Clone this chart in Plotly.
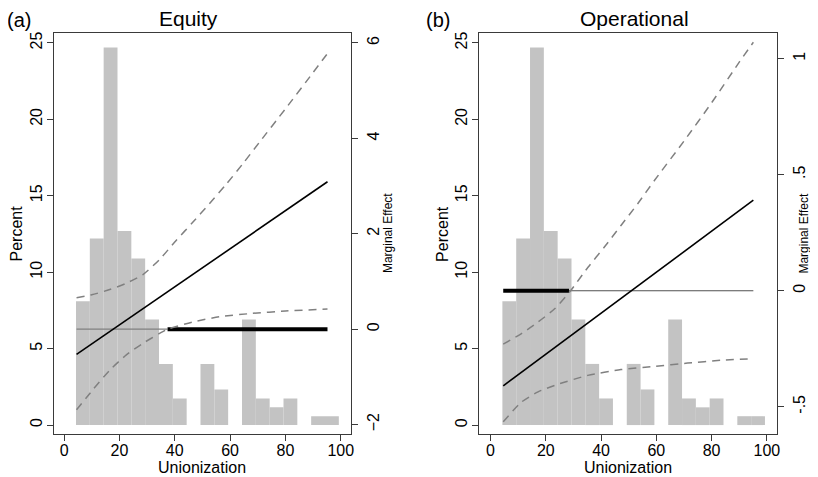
import plotly.graph_objects as go

# The page body has an 8px margin, so the figure is offset by 8px.
OFF = 8
W, H = 810, 469

# ---- data ----
bin_starts = [4.3, 9.3, 14.3, 19.3, 24.3, 29.3, 34.3, 39.3, 44.3, 49.3,
              54.3, 59.3, 64.3, 69.3, 74.3, 79.3, 84.3, 89.3, 94.3]
percent = [8.1, 12.2, 24.7, 12.7, 10.9, 6.9, 4.0, 1.74, 0, 4.0,
           2.33, 0, 6.9, 1.74, 1.16, 1.74, 0, 0.58, 0.58]
bin_width = 5

# Equity marginal effect
eq_me_x = [4.5, 95.2]
eq_me_y = [-0.53, 3.09]
eq_up_x = [4.5, 10, 16.5, 22, 28.4, 34.5, 40.5, 46.5, 52.5, 58.5, 64.5, 70.5, 80, 90, 95.2]
eq_up_y = [0.66, 0.72, 0.83, 0.95, 1.14, 1.46, 1.86, 2.24, 2.63, 3.03, 3.46, 3.91, 4.62, 5.38, 5.78]
eq_lo_x = [4.5, 10.4, 16.5, 22.5, 28.4, 34.5, 37.4, 46.5, 56.1, 68, 80, 95.2]
eq_lo_y = [-1.69, -1.27, -0.86, -0.54, -0.30, -0.09, 0.0, 0.15, 0.26, 0.33, 0.38, 0.42]
eq_thin_x = [4.5, 37.4]
eq_thick_x = [37.4, 95.2]

# Operational marginal effect
op_me_x = [4.6, 95.1]
op_me_y = [-0.41, 0.39]
op_up_x = [4.6, 11.2, 17.2, 23.2, 28.6, 35.2, 41.2, 47.2, 53.2, 59.3, 70, 80, 90, 95.1]
op_up_y = [-0.23, -0.185, -0.135, -0.078, -0.006, 0.10, 0.188, 0.281, 0.374, 0.475,
           0.645, 0.81, 0.985, 1.071]
op_lo_x = [4.6, 11.2, 17.2, 23.2, 35.2, 47.2, 59.3, 71.3, 83.3, 95.1]
op_lo_y = [-0.565, -0.48, -0.436, -0.408, -0.365, -0.34, -0.326, -0.312, -0.30, -0.293]
op_thick_x = [4.6, 28.4]
op_thin_x = [28.4, 95.1]

x_ticks = [0, 20, 40, 60, 80, 100]
pct_ticks = [0, 5, 10, 15, 20, 25]
eq_me_ticks = [-2, 0, 2, 4, 6]
op_me_ticks = [-0.5, 0, 0.5, 1]
op_me_ticktext = ["-.5", "0", ".5", "1"]

FONT = "Liberation Sans, Arial, sans-serif"
BAR_C = "#c3c3c3"
DASH_C = "#808080"
FRAME_C = "#3a3a3a"


def px(x):
    return (x - OFF) / W


def py(y):
    return 1 - (y - OFF) / H


fig = go.Figure()


def add_panel(xa, ya_pct, ya_me, thin_x, thin_c, thick_x, up_x, up_y, lo_x, lo_y, me_x, me_y):
    fig.add_trace(go.Bar(x=bin_starts, y=percent, width=bin_width, offset=0,
                         marker=dict(color=BAR_C, line=dict(width=0)),
                         xaxis=xa, yaxis=ya_pct, showlegend=False))
    fig.add_trace(go.Scatter(x=thin_x, y=[0, 0], mode="lines",
                             line=dict(color=thin_c, width=1.1),
                             xaxis=xa, yaxis=ya_me, showlegend=False))
    fig.add_trace(go.Scatter(x=thick_x, y=[0, 0], mode="lines",
                             line=dict(color="black", width=4),
                             xaxis=xa, yaxis=ya_me, showlegend=False))
    for cx, cy in ((up_x, up_y), (lo_x, lo_y)):
        fig.add_trace(go.Scatter(x=cx, y=cy, mode="lines",
                                 line=dict(color=DASH_C, width=1.5, dash="8px,6px",
                                           shape="spline", smoothing=0.6),
                                 xaxis=xa, yaxis=ya_me, showlegend=False))
    fig.add_trace(go.Scatter(x=me_x, y=me_y, mode="lines",
                             line=dict(color="black", width=1.6),
                             xaxis=xa, yaxis=ya_me, showlegend=False))


add_panel("x", "y", "y2", eq_thin_x, "#808080", eq_thick_x,
          eq_up_x, eq_up_y, eq_lo_x, eq_lo_y, eq_me_x, eq_me_y)
add_panel("x2", "y3", "y4", op_thin_x, "#505050", op_thick_x,
          op_up_x, op_up_y, op_lo_x, op_lo_y, op_me_x, op_me_y)

tickfont = dict(family=FONT, size=16, color="black")
ydom = [py(434), py(32)]

common_x = dict(showgrid=False, zeroline=False, showline=True, mirror=True,
                linecolor=FRAME_C, linewidth=1.2, ticks="outside", ticklen=6,
                tickcolor=FRAME_C, tickfont=tickfont, tickvals=x_ticks,
                ticklabelstandoff=-4)
common_y = dict(showgrid=False, zeroline=False, showline=True, mirror=True,
                linecolor=FRAME_C, linewidth=1.2, ticks="outside", ticklen=6,
                tickcolor=FRAME_C, tickfont=tickfont, tickangle=-90,
                ticklabelstandoff=-2)
right_y = dict(showgrid=False, zeroline=False, showline=False, ticks="outside",
               ticklen=6, tickcolor=FRAME_C, tickfont=tickfont, tickangle=-90,
               side="right", ticklabelstandoff=2)

fig.update_layout(
    width=W, height=H,
    margin=dict(l=0, r=0, t=0, b=0),
    paper_bgcolor="white", plot_bgcolor="white",
    barmode="overlay",
    xaxis=dict(domain=[px(54), px(352)], range=[-3.71, 103.6], anchor="y", **common_x),
    yaxis=dict(domain=ydom, range=[-0.59, 25.65], anchor="x", tickvals=pct_ticks, **common_y),
    yaxis2=dict(overlaying="y", anchor="x", range=[-2.2, 6.21], tickvals=eq_me_ticks, **right_y),
    xaxis2=dict(domain=[px(480.7), px(779.7)], range=[-4.18, 103.6], anchor="y3", **common_x),
    yaxis3=dict(domain=ydom, range=[-0.59, 25.65], anchor="x2", tickvals=pct_ticks, **common_y),
    yaxis4=dict(overlaying="y3", anchor="x2", range=[-0.618, 1.111],
                tickvals=op_me_ticks, ticktext=op_me_ticktext, **right_y),
    showlegend=False,
)


def ann(text, x, y, size, angle=0):
    fig.add_annotation(text=text, x=px(x), y=py(y), xref="paper", yref="paper",
                       showarrow=False, textangle=angle,
                       font=dict(family=FONT, size=size, color="black"),
                       xanchor="center", yanchor="middle")


ann("(a)", 19, 19, 20)
ann("Equity", 189, 18, 21)
ann("(b)", 440, 19, 20)
ann("Operational", 637, 18, 21)
ann("Percent", 17, 233, 16, -90)
ann("Percent", 444, 233, 16, -90)
ann("Marginal Effect", 389, 233, 12, -90)
ann("Marginal Effect", 806, 233, 12, -90)
ann("Unionization", 203, 467, 16)
ann("Unionization", 630, 467, 16)

fig.write_html("out.html")
